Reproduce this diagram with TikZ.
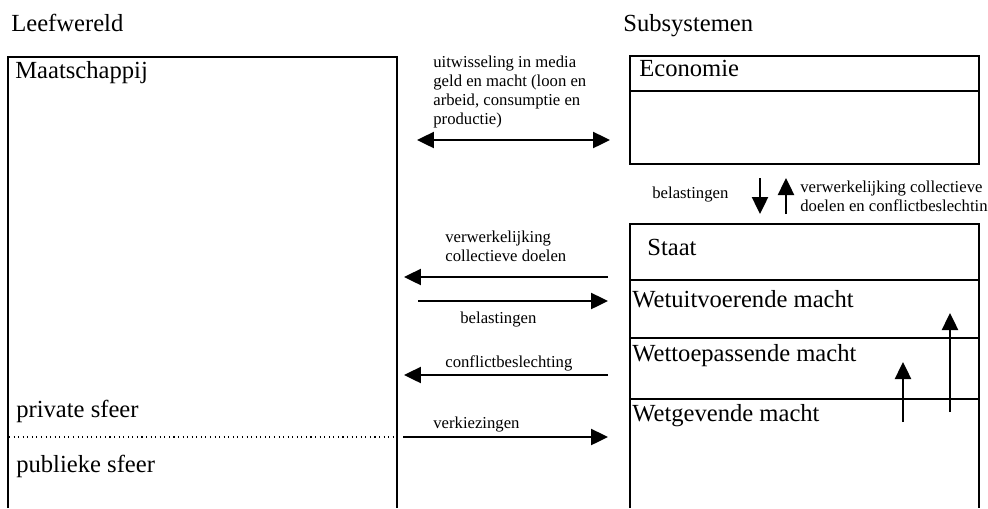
\documentclass[tikz,border=0pt]{standalone}
\usepackage{fontspec}
\setmainfont{Liberation Serif}
\usetikzlibrary{arrows.meta,positioning,calc}

\begin{document}
\begin{tikzpicture}[
  x=0.02cm, y=-0.02cm,
  lbl/.style={anchor=base west, inner sep=0pt, font=\fontsize{14}{16}\selectfont},
  small/.style={anchor=base west, inner sep=0pt, align=left,
                font=\fontsize{9.5}{10.7}\selectfont},
  frame/.style={line width=1pt},
  ar/.style={-{Triangle[length=3.4mm, width=3.2mm]}, line width=1.4pt},
  dar/.style={{Triangle[length=3.4mm, width=3.2mm]}-{Triangle[length=3.4mm, width=3.2mm]}, line width=1.4pt}
]
  \useasboundingbox (0,0) rectangle (988,508);
  % titels
  \node[lbl] (lw) at (11,31) {Leefwereld};
  \node[lbl] (ss) at (623,31) {Subsystemen};
  % leefwereld
  \draw[frame] (8,508) |- (397,57) -- (397,508);
  \draw[dotted, line width=0.6pt] (9,437) -- (396,437);
  \node[lbl] (maat) at (15,78) {Maatschappij};
  \node[lbl] (priv) at (16,417) {private sfeer};
  \node[lbl] (publ) at (16,472) {publieke sfeer};
  % economie
  \draw[frame] (630,56) rectangle (979,164);
  \draw[frame] (630,91) -- (979,91);
  \node[lbl] (eco) at (639,76) {Economie};
  % staat
  \draw[frame] (630,508) |- (979,224) -- (979,508);
  \draw[frame] (630,280) -- (979,280);
  \draw[frame] (630,338) -- (979,338);
  \draw[frame] (630,399) -- (979,399);
  \node[lbl] (staat) at (647,255) {Staat};
  \node[lbl] (uitv) at (632,307) {Wetuitvoerende macht};
  \node[lbl] (toep) at (632,361) {Wettoepassende macht};
  \node[lbl] (gev) at (632,421) {Wetgevende macht};
  % pijlen tussen leefwereld en subsystemen
  \coordinate (m1l) at (417,140); \coordinate (m1r) at (610,140);
  \coordinate (m2l) at (404,277); \coordinate (m2r) at (608,277);
  \coordinate (m3l) at (418,301); \coordinate (m3r) at (608,301);
  \coordinate (m4l) at (404,375); \coordinate (m4r) at (608,375);
  \coordinate (m5l) at (403,437); \coordinate (m5r) at (608,437);
  \draw[dar] (m1l) -- (m1r);
  \draw[ar] (m2r) -- (m2l);
  \draw[ar] (m3l) -- (m3r);
  \draw[ar] (m4r) -- (m4l);
  \draw[ar] (m5l) -- (m5r);
  % (base = basislijn van de laatste regel)
  \node[small] (t1) at (433,124) {uitwisseling in media\\geld en macht (loon en\\arbeid, consumptie en\\productie)};
  \node[small] (t2) at (445,261) {verwerkelijking\\collectieve doelen};
  \node[small] (t3) at (460,323) {belastingen};
  \node[small] (t4) at (445,367) {conflictbeslechting};
  \node[small] (t5) at (433,428) {verkiezingen};
  % economie <-> staat
  \coordinate (v1t) at (760,178); \coordinate (v1b) at (760,214);
  \coordinate (v2t) at (786,178); \coordinate (v2b) at (786,214);
  \draw[ar] (v1t) -- (v1b);
  \draw[ar] (v2b) -- (v2t);
  \node[small] (t6) at (652,198) {belastingen};
  \node[small] (t7) at (800,211) {verwerkelijking collectieve\\doelen en conflictbeslechtin};
  % binnen de staat
  \coordinate (s1b) at (950,412); \coordinate (s1t) at (950,313);
  \coordinate (s2b) at (903,422); \coordinate (s2t) at (903,362);
  \draw[ar] (s1b) -- (s1t);
  \draw[ar] (s2b) -- (s2t);
\end{tikzpicture}
\end{document}
